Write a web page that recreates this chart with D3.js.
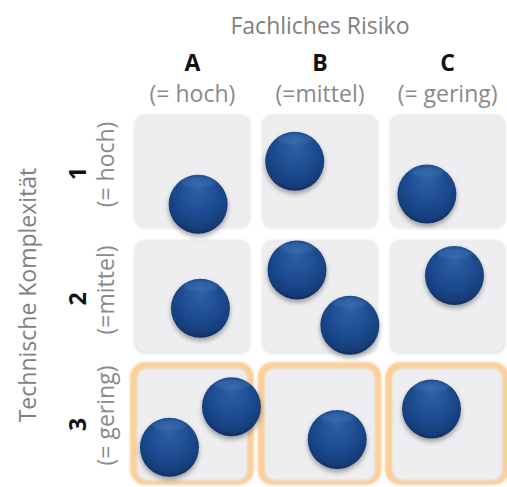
<!DOCTYPE html>
<html>
<head>
<meta charset="utf-8">
<script src="https://cdn.jsdelivr.net/npm/d3@7/dist/d3.min.js"></script>
<style>
  html, body { margin: 0; padding: 0; background: #ffffff; }
  svg { display: block; }
</style>
</head>
<body>
<div id="chart"></div>
<script>
// Risk matrix: business risk (columns) vs. technical complexity (rows)
const risks = ['A', 'B', 'C'];
const riskLabels = ['(= hoch)', '(=mittel)', '(= gering)'];
const complexities = ['1', '2', '3'];
const complexityLabels = ['(= hoch)', '(=mittel)', '(= gering)'];
const highlightedRows = ['3'];

// Items placed in the matrix: cell + relative position inside the cell
const itemRisk       = ['A',  'A',  'B',  'C',  'B',  'B',  'C',  'A',  'A',  'B',  'C'];
const itemComplexity = ['1',  '2',  '1',  '1',  '2',  '2',  '2',  '3',  '3',  '3',  '3'];
const itemPosX       = [0.55, 0.57, 0.28, 0.32, 0.30, 0.76, 0.56, 0.30, 0.84, 0.65, 0.36];
const itemPosY       = [0.79, 0.60, 0.41, 0.70, 0.26, 0.75, 0.31, 0.72, 0.36, 0.65, 0.38];

const W = 507, H = 487;
const svg = d3.select('#chart').append('svg').attr('width', W).attr('height', H);
const defs = svg.append('defs');

const ball = defs.append('radialGradient').attr('id', 'ball')
  .attr('cx', '50%').attr('cy', '40%').attr('r', '62%').attr('fx', '50%').attr('fy', '22%');
ball.append('stop').attr('offset', '0%').attr('stop-color', '#2f61a8');
ball.append('stop').attr('offset', '55%').attr('stop-color', '#1d4c91');
ball.append('stop').attr('offset', '85%').attr('stop-color', '#163f7c');
ball.append('stop').attr('offset', '100%').attr('stop-color', '#0e2c5e');

const shade = defs.append('filter').attr('id', 'shade')
  .attr('x', '-30%').attr('y', '-30%').attr('width', '160%').attr('height', '170%');
shade.append('feDropShadow').attr('dx', 0).attr('dy', 3).attr('stdDeviation', 2.5)
  .attr('flood-color', '#000').attr('flood-opacity', 0.35);

const soft = defs.append('filter').attr('id', 'soft')
  .attr('x', '-10%').attr('y', '-10%').attr('width', '120%').attr('height', '120%');
soft.append('feGaussianBlur').attr('stdDeviation', 1.2);

const cellEdge = defs.append('filter').attr('id', 'cellEdge')
  .attr('x', '-10%').attr('y', '-10%').attr('width', '120%').attr('height', '120%');
cellEdge.append('feGaussianBlur').attr('stdDeviation', 0.8);

const x = d3.scaleBand().domain(risks).range([135, 505]).paddingInner(0.1);
const y = d3.scaleBand().domain(complexities).range([115, 479]).paddingInner(0.1);
const px = d3.scaleLinear().domain([0, 1]).range([0, x.bandwidth()]);
const py = d3.scaleLinear().domain([0, 1]).range([0, y.bandwidth()]);

const cells = [];
complexities.forEach(c => risks.forEach(r => cells.push({ r, c })));

// Orange frame around the highlighted row
svg.append('g').selectAll('rect')
  .data(cells.filter(d => highlightedRows.includes(d.c)))
  .join('rect')
  .attr('x', d => x(d.r) - 1)
  .attr('y', d => y(d.c))
  .attr('width', x.bandwidth() + 1)
  .attr('height', y.bandwidth() + 2)
  .attr('rx', 11)
  .attr('fill', 'none')
  .attr('stroke', '#f9cf9a')
  .attr('stroke-width', 8)
  .attr('filter', 'url(#soft)');

// Cell backgrounds
svg.append('g').selectAll('rect')
  .data(cells)
  .join('rect')
  .attr('x', d => x(d.r) + (highlightedRows.includes(d.c) ? 3 : 0))
  .attr('y', d => y(d.c) + (highlightedRows.includes(d.c) ? 3 : 0))
  .attr('width', d => x.bandwidth() - (highlightedRows.includes(d.c) ? 6 : 0))
  .attr('height', d => y.bandwidth() - (highlightedRows.includes(d.c) ? 2 : 0))
  .attr('rx', 10)
  .attr('fill', '#eeeef0')
  .attr('stroke', '#e6e6ea')
  .attr('stroke-width', 1.5)
  .attr('filter', 'url(#cellEdge)');

// Items
const items = itemRisk.map((r, i) => ({ r, c: itemComplexity[i], u: itemPosX[i], v: itemPosY[i] }));
const balls = svg.append('g').selectAll('g')
  .data(items)
  .join('g')
  .attr('transform', d => `translate(${x(d.r) + px(d.u)},${y(d.c) + py(d.v)})`);
balls.append('circle').attr('r', 29.5).attr('fill', 'url(#ball)').attr('filter', 'url(#shade)');
balls.append('ellipse').attr('cx', 0).attr('cy', -22).attr('rx', 17).attr('ry', 5)
  .attr('fill', '#5f8cc8').attr('opacity', 0.25).attr('filter', 'url(#soft)');

// Column header
const font = "'Open Sans', sans-serif";
svg.append('text')
  .attr('x', 320).attr('y', 34)
  .attr('text-anchor', 'middle')
  .attr('font-family', font).attr('font-size', 23)
  .attr('fill', '#808080')
  .text('Fachliches Risiko');

// Each column heading: bold letter with its meaning on the line below
const colHead = svg.append('g').selectAll('g').data(risks).join('g')
  .attr('transform', d => `translate(${x(d) + x.bandwidth() / 2},0)`);
colHead.append('text')
  .attr('y', 71).attr('text-anchor', 'middle')
  .attr('font-family', font).attr('font-size', 23).attr('font-weight', 'bold')
  .attr('fill', '#111')
  .text(d => d);
colHead.append('text')
  .attr('y', 102).attr('text-anchor', 'middle')
  .attr('font-family', font).attr('font-size', 23)
  .attr('fill', '#8a8a8a')
  .text((d, i) => riskLabels[i]);

// Row header
svg.append('text')
  .attr('transform', 'translate(36,295) rotate(-90)')
  .attr('text-anchor', 'middle')
  .attr('font-family', font).attr('font-size', 23)
  .attr('fill', '#808080')
  .text('Technische Komplexität');

// Each row heading (rotated): bold number with its meaning beside it
const rowHead = svg.append('g').selectAll('g').data(complexities).join('g')
  .attr('transform', d => `translate(0,${y(d) + y.bandwidth() / 2})`);
rowHead.append('text')
  .attr('transform', 'translate(86,2) rotate(-90)')
  .attr('text-anchor', 'middle')
  .attr('font-family', font).attr('font-size', 23).attr('font-weight', 'bold')
  .attr('fill', '#111')
  .text(d => d);
rowHead.append('text')
  .attr('transform', 'translate(114,-7) rotate(-90)')
  .attr('text-anchor', 'middle')
  .attr('font-family', font).attr('font-size', 23)
  .attr('fill', '#8a8a8a')
  .text((d, i) => complexityLabels[i]);
</script>
</body>
</html>
